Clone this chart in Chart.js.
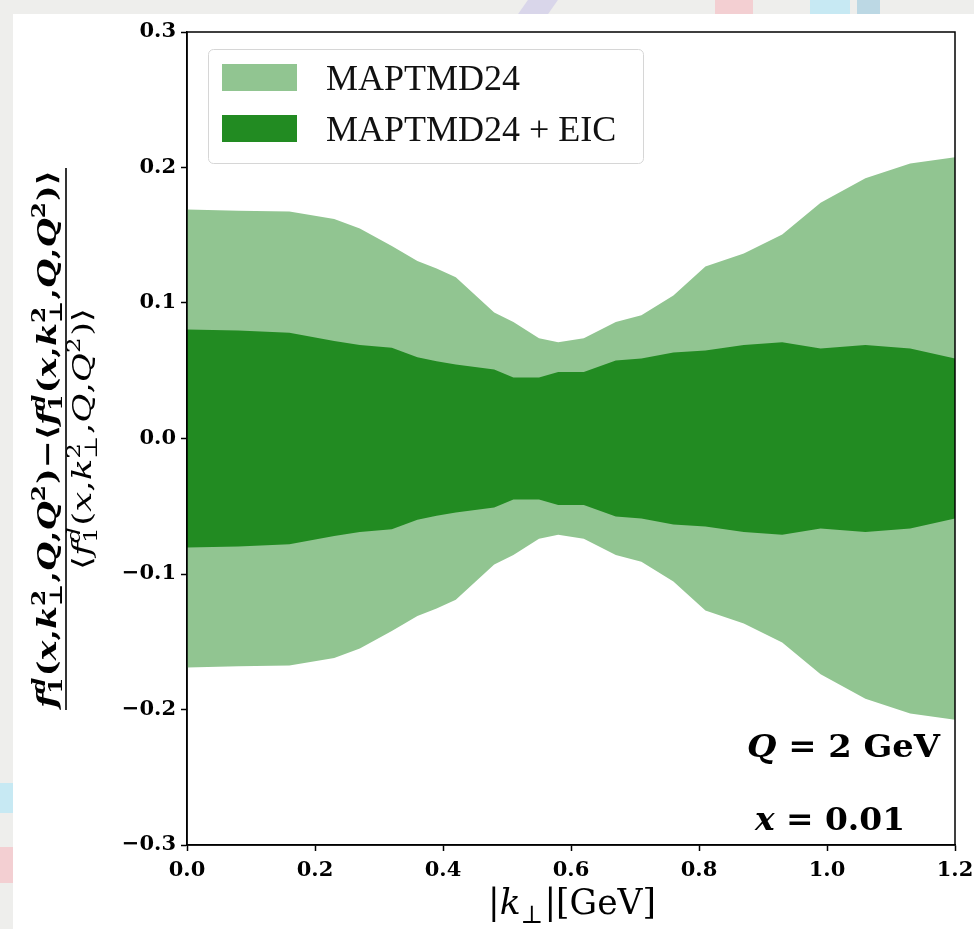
<!DOCTYPE html>
<html lang="en">
<head>
<meta charset="UTF-8">
<title>MAPTMD24 band</title>
<script src="https://cdn.jsdelivr.net/npm/chart.js"></script>
<style>
  body { margin: 0; width: 974px; height: 929px; overflow: hidden; background: #eeeeec; position: relative; }
  .blob { position: absolute; }
  .panel { position: absolute; left: 13px; top: 14px; right: 0; bottom: 0; background: #fff; }
  #wrap { position: absolute; left: 0; top: 0; width: 974px; height: 929px; }
</style>
</head>
<body>
<div class="blob" style="left:523px;top:0;width:30px;height:14px;background:#d9d6ea;transform:skewX(-35deg)"></div>
<div class="blob" style="left:715px;top:0;width:38px;height:14px;background:#f3cfd2"></div>
<div class="blob" style="left:810px;top:0;width:40px;height:14px;background:#c7e9f3"></div>
<div class="blob" style="left:857px;top:0;width:23px;height:14px;background:#bcd8e4"></div>
<div class="blob" style="left:0;top:783px;width:13px;height:30px;background:#c7e9f3"></div>
<div class="blob" style="left:0;top:847px;width:13px;height:36px;background:#f3cfd2"></div>
<div class="panel"></div>
<div id="wrap"><canvas id="grafico" width="974" height="929"></canvas></div>

<script>
// |k_perp| sample points (GeV)
const kPerp = [0.0, 0.08, 0.16, 0.23, 0.27, 0.32, 0.36, 0.39, 0.42, 0.48, 0.51, 0.55,
               0.58, 0.62, 0.67, 0.71, 0.76, 0.81, 0.87, 0.93, 0.99, 1.06, 1.13, 1.2];
// half widths of the relative uncertainty bands (symmetric about 0)
const bandMap = [0.169, 0.168, 0.1675, 0.162, 0.155, 0.142, 0.131, 0.1255, 0.119, 0.093, 0.086, 0.074,
                 0.071, 0.074, 0.086, 0.091, 0.1055, 0.127, 0.1365, 0.1505, 0.174, 0.192, 0.203, 0.2075];
const bandEic = [0.0804, 0.0797, 0.078, 0.072, 0.069, 0.067, 0.060, 0.057, 0.0546, 0.051, 0.045, 0.045,
                 0.049, 0.049, 0.0576, 0.059, 0.0635, 0.065, 0.069, 0.071, 0.0665, 0.069, 0.0665, 0.059];
const xTicks = [0.0, 0.2, 0.4, 0.6, 0.8, 1.0, 1.2];
const yTicks = [-0.3, -0.2, -0.1, 0.0, 0.1, 0.2, 0.3];
const labels = ['MAPTMD24', 'MAPTMD24 + EIC'];
const cores = ['#91c591', '#228b22'];

const SERIF = '"Liberation Serif", "DejaVu Serif", serif';
const MATH = '"DejaVu Serif", serif';
function fonte(size, bold, italic) {
  return (italic ? 'italic ' : '') + (bold ? 'bold ' : '') + size + 'px ' + MATH;
}

// tiny "math" text: tokens are plain runs or sub/sup stacks
function escreveMath(ctx, toks, x0, y0, size, bold, draw) {
  let x = x0;
  for (const tk of toks) {
    if (tk.t !== undefined) {
      ctx.font = fonte(size, bold, tk.i);
      if (draw) ctx.fillText(tk.t, x, y0);
      x += ctx.measureText(tk.t).width;
    } else {
      const s = Math.round(size * 0.7);
      let w = 0;
      if (tk.sup) {
        ctx.font = fonte(s, bold, tk.si);
        if (draw) ctx.fillText(tk.sup, x, y0 - size * 0.42);
        w = Math.max(w, ctx.measureText(tk.sup).width);
      }
      if (tk.sub) {
        ctx.font = fonte(s, bold, false);
        if (draw) ctx.fillText(tk.sub, x, y0 + size * 0.24);
        w = Math.max(w, ctx.measureText(tk.sub).width);
      }
      x += w + size * 0.04;
    }
  }
  return x - x0;
}

// draws tokens squeezed/stretched to a target width
function desenha(ctx, toks, x, y, size, bold, alvo, align) {
  const w = escreveMath(ctx, toks, 0, 0, size, bold, false);
  const sx = alvo ? alvo / w : 1;
  const ww = w * sx;
  const left = align === 'center' ? x - ww / 2 : (align === 'right' ? x - ww : x);
  ctx.save();
  ctx.translate(left, y);
  ctx.scale(sx, 1);
  escreveMath(ctx, toks, 0, 0, size, bold, true);
  ctx.restore();
}

function fTok() {
  return [{t: 'f', i: 1}, {sub: '1', sup: 'd', si: 1}, {t: '('}, {t: 'x', i: 1}, {t: ','},
          {t: 'k', i: 1}, {sub: '⊥', sup: '2'}, {t: ','}, {t: 'Q', i: 1}, {t: ','},
          {t: 'Q', i: 1}, {sup: '2'}, {t: ')'}];
}

const extras = {
  id: 'extras',
  afterDraw(chart) {
    const ctx = chart.ctx;
    const a = chart.chartArea;
    ctx.save();
    // frame
    ctx.strokeStyle = '#000';
    ctx.lineWidth = 1.5;
    ctx.strokeRect(a.left, a.top, a.right - a.left, a.bottom - a.top);

    // legend
    ctx.fillStyle = 'rgba(255,255,255,0.85)';
    ctx.strokeStyle = '#d6d6d6';
    ctx.lineWidth = 1;
    ctx.beginPath();
    ctx.roundRect(208.5, 49.5, 435, 114, 5);
    ctx.fill();
    ctx.stroke();
    ctx.textBaseline = 'alphabetic';
    for (let i = 0; i < labels.length; i++) {
      ctx.fillStyle = cores[i];
      ctx.fillRect(222, 64 + i * 51, 75, 27);
      ctx.fillStyle = '#111';
      ctx.font = '36px ' + SERIF;
      ctx.fillText(labels[i], 326, 90 + i * 51);
    }

    // annotations
    ctx.fillStyle = '#000';
    desenha(ctx, [{t: 'Q', i: 1}, {t: ' = 2 GeV'}], 940, 757, 32, true, 193, 'right');
    desenha(ctx, [{t: 'x', i: 1}, {t: ' = 0.01'}], 755, 830, 32, true, 150, 'left');

    // x title
    desenha(ctx, [{t: '|'}, {t: 'k', i: 1}, {sub: '⊥'}, {t: '|[GeV]'}], 572, 914, 36, false, 168, 'center');

    // y title (fraction, rotated)
    const num = [...fTok(), {t: '−'}, {t: '⟨'}, ...fTok(), {t: '⟩'}];
    const den = [{t: '⟨'}, ...fTok(), {t: '⟩'}];
    ctx.translate(66, 439);
    ctx.rotate(-Math.PI / 2);
    desenha(ctx, num, 0, -10, 26, true, 538, 'center');
    desenha(ctx, den, 0, 25, 26, false, 262, 'center');
    ctx.strokeStyle = '#000';
    ctx.lineWidth = 1.6;
    ctx.beginPath();
    ctx.moveTo(-271, 0);
    ctx.lineTo(271, 0);
    ctx.stroke();
    ctx.restore();
  }
};

function banda(sinal, arr) {
  return kPerp.map((k, i) => ({x: k, y: sinal * arr[i]}));
}

const semLinha = {borderWidth: 0, borderColor: 'rgba(0,0,0,0)', pointRadius: 0, tension: 0};

const eixoTick = {
  display: true,
  drawOnChartArea: false,
  drawTicks: true,
  tickLength: 6,
  tickWidth: 1.5,
  tickColor: '#000'
};

// filler paints the last dataset first, so the EIC band goes first to end up on top
new Chart(document.getElementById('grafico'), {
  type: 'line',
  data: {
    datasets: [
      {label: labels[1], data: banda(1, bandEic), fill: '+1', backgroundColor: cores[1], ...semLinha},
      {label: labels[1] + ' low', data: banda(-1, bandEic), fill: false, ...semLinha},
      {label: labels[0], data: banda(1, bandMap), fill: '+1', backgroundColor: cores[0], ...semLinha},
      {label: labels[0] + ' low', data: banda(-1, bandMap), fill: false, ...semLinha}
    ]
  },
  options: {
    responsive: false,
    animation: false,
    devicePixelRatio: 1,
    layout: {padding: {top: 32, right: 19, left: 0, bottom: 0}},
    plugins: {legend: {display: false}, tooltip: {enabled: false}},
    scales: {
      x: {
        type: 'linear', min: 0, max: 1.2,
        afterBuildTicks: s => { s.ticks = xTicks.map(v => ({value: v})); },
        afterFit: s => { s.height = 84; s.paddingLeft = 0; s.paddingRight = 0; },
        grid: eixoTick,
        border: {display: true, color: '#000', width: 1.5},
        ticks: {
          color: '#000', padding: 7, maxRotation: 0,
          font: {family: MATH, size: 21, weight: 'bold'},
          callback: v => v.toFixed(1)
        }
      },
      y: {
        type: 'linear', min: -0.3, max: 0.3,
        afterBuildTicks: s => { s.ticks = yTicks.map(v => ({value: v})); },
        afterFit: s => { s.width = 187; s.paddingTop = 0; s.paddingBottom = 0; },
        grid: eixoTick,
        border: {display: true, color: '#000', width: 1.5},
        ticks: {
          color: '#000', padding: 5,
          font: {family: MATH, size: 21, weight: 'bold'},
          callback: v => (v < -1e-9 ? '−' : '') + Math.abs(v).toFixed(1)
        }
      }
    }
  },
  plugins: [extras]
});
</script>
</body>
</html>
